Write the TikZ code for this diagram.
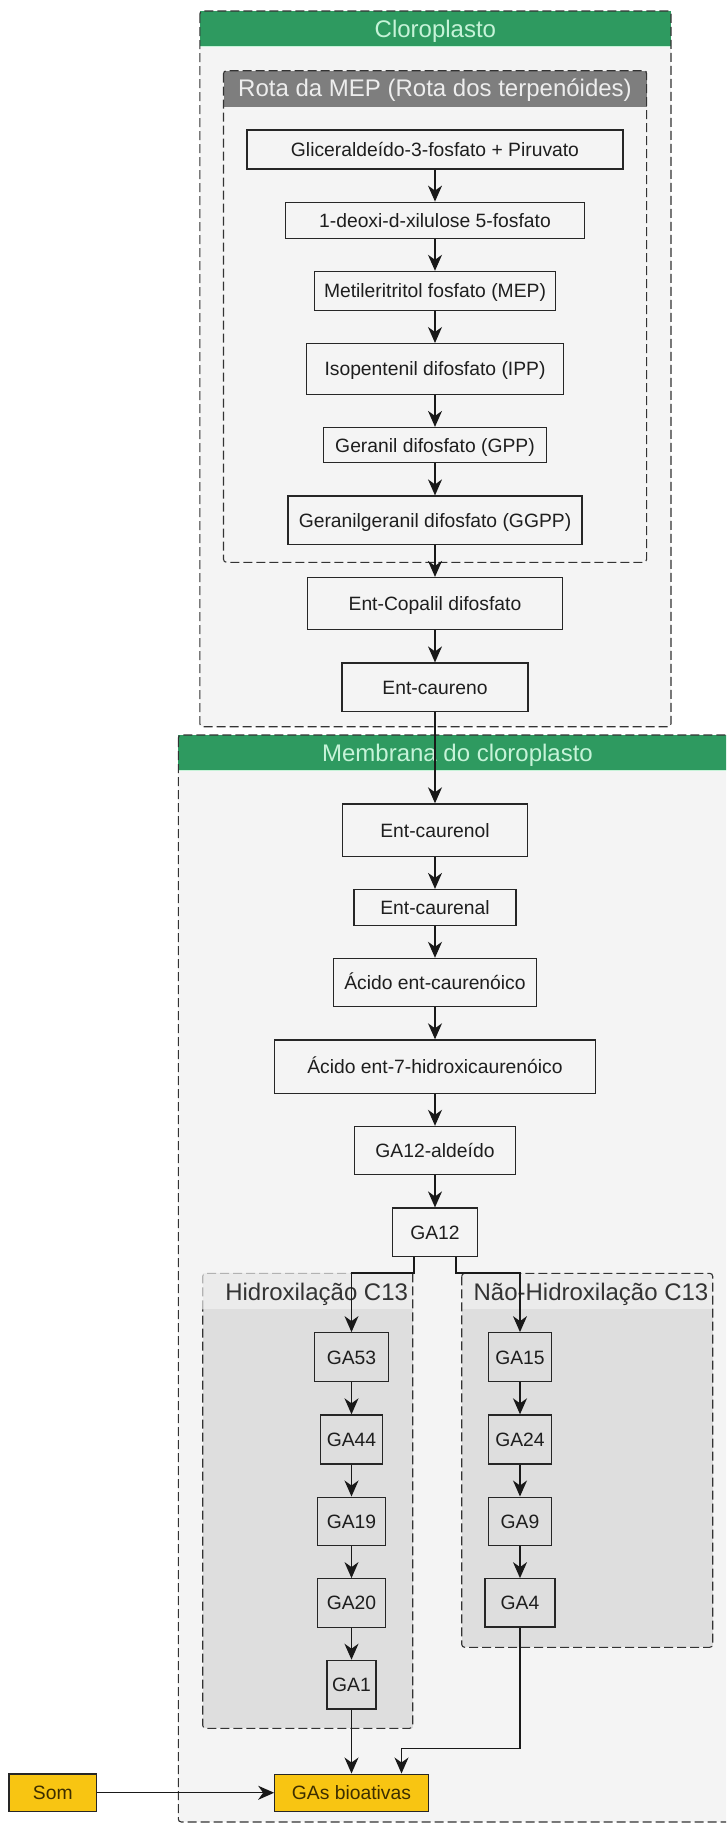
\documentclass[tikz,border=0pt]{standalone}
\usepackage{fontspec}
\setmainfont{Liberation Sans}
\usetikzlibrary{positioning,arrows.meta}

\definecolor{verde}{HTML}{2E9A60}
\definecolor{verdeclaro}{HTML}{C6F3D8}
\definecolor{cinzaescuro}{HTML}{7E7E7E}
\definecolor{fundo}{HTML}{F4F4F4}
\definecolor{cinzamedio}{HTML}{DEDEDE}
\definecolor{cinzaclaro}{HTML}{EBEBEB}
\definecolor{ouro}{HTML}{F8C512}
\definecolor{marrom}{HTML}{3D2E00}
\definecolor{texto}{HTML}{1E1E1E}

\begin{document}
\begin{tikzpicture}[x=1pt, y=-1pt, node distance=32pt,
    every node/.style={inner sep=0pt, text=texto, font=\fontsize{19.3}{23}\selectfont},
    caixa/.style={rectangle, draw=black!85, line width=1.2pt, text height=13.8pt, text depth=0pt},
    tam/.style 2 args={minimum width=#1pt, minimum height=#2pt},
    amarela/.style={caixa, fill=ouro, text=marrom},
    seta/.style={draw=black!90, line width=1.3pt, -{Stealth[length=16pt, width=14pt, inset=5pt]}},
    tracejado/.style={draw=black!80, line width=1.1pt, dash pattern=on 9pt off 4pt, rounded corners=3pt},
    titulo/.style={anchor=base, font=\fontsize{24}{28}\selectfont}]
    \useasboundingbox (0,0) rectangle (726,1823);
    \clip (0,0) rectangle (726,1823);

    % Containers
    \fill[fundo, rounded corners=3pt] (199.8,11) rectangle (671,726.7);
    \fill[verde] (199.8,11) rectangle (671,45.7);
    \draw[verdeclaro, line width=1pt] (199.8,46.3) -- (671,46.3);
    \draw[tracejado] (199.8,11) rectangle (671,726.7);
    \node[titulo, text=verdeclaro] (Cloro) at (435.4,37.7) {Cloroplasto};

    \fill[cinzaescuro] (223.5,70.7) rectangle (646.6,106.7);
    \draw[tracejado] (223.5,70.7) rectangle (646.6,562.3);
    \node[titulo, text=white!93!black] (Rota) at (435,96.7) {Rota da MEP (Rota dos terpenóides)};

    \fill[fundo] (178.3,735) rectangle (740,1822);
    \fill[verde] (178.3,735) rectangle (740,770);
    \draw[verdeclaro, line width=1pt] (178.3,770.6) -- (740,770.6);
    \draw[tracejado] (178.3,735) rectangle (740,1822);
    \node[titulo, text=verdeclaro] (Memb) at (457.5,761) {Membrana do cloroplasto};

    \fill[cinzamedio] (202.7,1273.3) rectangle (412.7,1728.3);
    \fill[cinzaclaro] (202.7,1273.3) rectangle (412.7,1309.3);
    \draw[tracejado, draw=black!30] (202.7,1309.3) |- (412.7,1273.3);
    \draw[tracejado] (412.7,1273.3) -- (412.7,1728.3) -- (202.7,1728.3) -- (202.7,1309.3);
    \node[titulo, text=black!80] (Hidro) at (316.7,1300) {Hidroxilação C13};

    \fill[cinzamedio] (461.7,1273.3) rectangle (712.7,1647.3);
    \fill[cinzaclaro] (461.7,1273.3) rectangle (712.7,1309.3);
    \draw[tracejado] (461.7,1273.3) rectangle (712.7,1647.3);
    \node[titulo, text=black!80] (NaoHidro) at (591,1300) {Não-Hidroxilação C13};

    % Nodes
    \node[caixa, tam={376}{39}] (G3P) at (435,149.5) {Gliceraldeído-3-fosfato + Piruvato};
    \node[caixa, tam={299.5}{36}, below=of G3P] (DXP) {1-deoxi-d-xilulose 5-fosfato};
    \node[caixa, tam={241}{39}, below=of DXP] (MEP) {Metileritritol fosfato (MEP)};
    \node[caixa, tam={257}{50.7}, below=of MEP] (IPP) {Isopentenil difosfato (IPP)};
    \node[caixa, tam={223}{35.3}, below=of IPP] (GPP) {Geranil difosfato (GPP)};
    \node[caixa, tam={294}{48.3}, below=of GPP] (GGPP) {Geranilgeranil difosfato (GGPP)};
    \node[caixa, tam={255}{52.3}, below=of GGPP] (CPP) {Ent-Copalil difosfato};
    \node[caixa, tam={186}{48.7}, below=of CPP] (EK) {Ent-caureno};
    \node[caixa, tam={185}{52.4}, below=91pt of EK] (EKol) {Ent-caurenol};
    \node[caixa, tam={162}{35.7}, below=of EKol] (EKal) {Ent-caurenal};
    \node[caixa, tam={203.4}{48.3}, below=of EKal] (KA) {Ácido ent-caurenóico};
    \node[caixa, tam={320.3}{53.3}, below=of KA] (HKA) {Ácido ent-7-hidroxicaurenóico};
    \node[caixa, tam={161.7}{48.4}, below=of HKA] (GA12al) {GA12-aldeído};
    \node[caixa, tam={84.3}{48.6}, below=of GA12al] (GA12) {GA12};

    \node[caixa, tam={74.7}{49}] (GA53) at (351.5,1357.2) {GA53};
    \node[caixa, tam={62}{49}, below=of GA53] (GA44) {GA44};
    \node[caixa, tam={68}{48.4}, below=of GA44] (GA19) {GA19};
    \node[caixa, tam={68}{48.4}, below=of GA19] (GA20) {GA20};
    \node[caixa, tam={49}{48.6}, below=of GA20] (GA1) {GA1};

    \node[caixa, tam={63.4}{49}] (GA15) at (520,1357.2) {GA15};
    \node[caixa, tam={63.4}{49}, below=of GA15] (GA24) {GA24};
    \node[caixa, tam={63.4}{48.4}, below=of GA24] (GA9) {GA9};
    \node[caixa, tam={70}{48.3}, below=of GA9] (GA4) {GA4};

    \node[amarela, tam={153.5}{37.3}, below=64pt of GA1] (GAs) {GAs bioativas};
    \node[amarela, tam={87.6}{37.4}, left=177pt of GAs] (Som) {Som};

    % Arrows
    \draw[seta] (G3P) -- (DXP);
    \draw[seta] (DXP) -- (MEP);
    \draw[seta] (MEP) -- (IPP);
    \draw[seta] (IPP) -- (GPP);
    \draw[seta] (GPP) -- (GGPP);
    \draw[seta] (GGPP) -- (CPP);
    \draw[seta] (CPP) -- (EK);
    \draw[seta] (EK) -- (EKol);
    \draw[seta] (EKol) -- (EKal);
    \draw[seta] (EKal) -- (KA);
    \draw[seta] (KA) -- (HKA);
    \draw[seta] (HKA) -- (GA12al);
    \draw[seta] (GA12al) -- (GA12);
    \draw[seta] ([xshift=-21pt]GA12.south) -- ++(0,15.7) -| (GA53.north);
    \draw[seta] ([xshift=21pt]GA12.south) -- ++(0,15.7) -| (GA15.north);
    \draw[seta] (GA53) -- (GA44);
    \draw[seta] (GA44) -- (GA19);
    \draw[seta] (GA19) -- (GA20);
    \draw[seta] (GA20) -- (GA1);
    \draw[seta] (GA15) -- (GA24);
    \draw[seta] (GA24) -- (GA9);
    \draw[seta] (GA9) -- (GA4);
    \draw[seta] (GA1) -- (GA1 |- GAs.north);
    \draw[seta] (GA4.south) -- ++(0,120.6) -| ([xshift=50pt]GAs.north);
    \draw[seta] (Som) -- (GAs);
\end{tikzpicture}
\end{document}
